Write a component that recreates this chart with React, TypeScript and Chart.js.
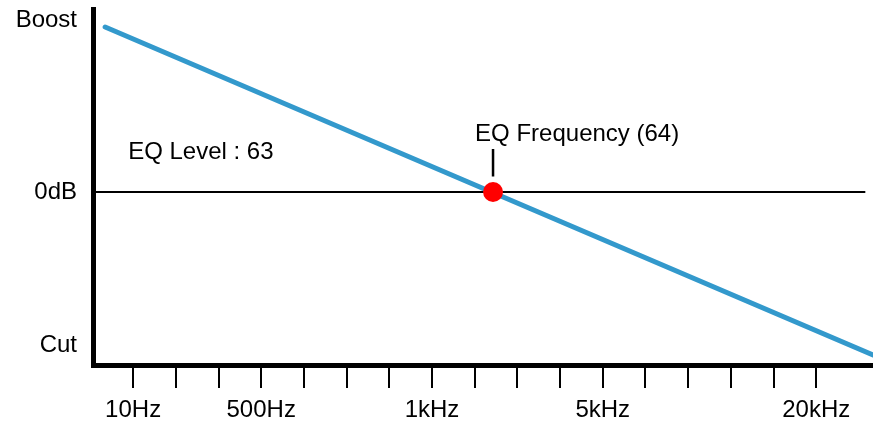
import React, { useEffect, useRef } from "react";
import { Chart, registerables } from "chart.js";

Chart.register(...registerables);

// X axis: 17 evenly spaced tick marks, only some labelled
const tickPositions = [0, 1, 2, 3, 4, 5, 6, 7, 8, 9, 10, 11, 12, 13, 14, 15, 16];
const tickLabels = ["10Hz", "", "", "500Hz", "", "", "", "1kHz", "", "", "", "5kHz", "", "", "", "", "20kHz"];

// Y axis labels
const yTickValues = [1, 0, -0.89];
const yTickLabels = ["Boost", "0dB", "Cut"];

// EQ curve (straight tilt line)
const curveX = [-0.656, 17.33];
const curveY = [0.959, -0.948];

// 0dB reference line
const zeroLineX = [-0.94, 17.15];
const zeroLineY = [0, 0];

// EQ frequency point
const eqPointX = [8.43];
const eqPointY = [0];

// marker line above EQ point
const markerX = [8.43, 8.43];
const markerY = [0.25, 0.09];

// text annotations: [text, x, y(baseline)]
const annotationTexts = ["EQ Level : 63", "EQ Frequency (64)"];
const annotationX = [-0.117, 8.01];
const annotationY = [0.19, 0.294];

const X_MIN = -0.94;
const X_MAX = 17.33;
const Y_MIN = -1.006;
const Y_MAX = 1.064;

const FONT = "'Liberation Sans', Arial, sans-serif";
const FONT_SIZE = 24;

const textPlugin = {
  id: "textAnnotations",
  afterDatasetsDraw(chart: any) {
    const { ctx, scales } = chart;
    ctx.save();
    ctx.fillStyle = "#000";
    ctx.font = `${FONT_SIZE}px ${FONT}`;
    ctx.textAlign = "left";
    ctx.textBaseline = "alphabetic";
    annotationTexts.forEach((t, i) => {
      ctx.fillText(t, scales.x.getPixelForValue(annotationX[i]), scales.y.getPixelForValue(annotationY[i]));
    });
    ctx.restore();
  },
};

const zeroPad = (scale: any) => {
  scale.paddingTop = 0;
  scale.paddingBottom = 0;
  scale.paddingLeft = 0;
  scale.paddingRight = 0;
};

export default function App() {
  const ref = useRef<HTMLCanvasElement | null>(null);
  useEffect(() => {
    if (!ref.current) return;
    const toPts = (xs: number[], ys: number[]) => xs.map((x, i) => ({ x, y: ys[i] }));
    const chart = new Chart(ref.current, {
      type: "scatter",
      data: {
        datasets: [
          {
            data: toPts(eqPointX, eqPointY),
            pointRadius: 10,
            pointBackgroundColor: "#ff0000",
            pointBorderWidth: 0,
            showLine: false,
            order: 0,
          } as any,
          {
            data: toPts(curveX, curveY),
            showLine: true,
            borderColor: "#3399cc",
            borderWidth: 5,
            borderCapStyle: "round",
            pointRadius: 0,
            order: 1,
          },
          {
            data: toPts(markerX, markerY),
            showLine: true,
            borderColor: "#000",
            borderWidth: 2.5,
            pointRadius: 0,
            order: 2,
          },
          {
            data: toPts(zeroLineX, zeroLineY),
            showLine: true,
            borderColor: "#000",
            borderWidth: 2,
            pointRadius: 0,
            order: 3,
          },
        ],
      },
      options: {
        animation: false,
        responsive: false,
        devicePixelRatio: 1,
        layout: { autoPadding: false, padding: { top: 9, left: 0, right: 0, bottom: 0 } },
        plugins: { legend: { display: false }, tooltip: { enabled: false } },
        scales: {
          x: {
            type: "linear",
            min: X_MIN,
            max: X_MAX,
            afterBuildTicks: (scale: any) => {
              scale.ticks = tickPositions.map((v) => ({ value: v }));
            },
            afterFit: (scale: any) => {
              scale.height = 58;
              zeroPad(scale);
            },
            grid: {
              display: true,
              drawOnChartArea: false,
              drawTicks: true,
              tickLength: 23,
              lineWidth: 2,
              color: "#000",
            },
            border: { display: true, width: 5, color: "#000" },
            ticks: {
              autoSkip: false,
              maxRotation: 0,
              padding: 8,
              color: "#000",
              font: { family: FONT, size: FONT_SIZE },
              callback: (value: any) => {
                const i = tickPositions.indexOf(Number(value));
                return i >= 0 ? tickLabels[i] : "";
              },
            },
          },
          y: {
            type: "linear",
            min: Y_MIN,
            max: Y_MAX,
            afterBuildTicks: (scale: any) => {
              scale.ticks = yTickValues.map((v) => ({ value: v }));
            },
            afterFit: (scale: any) => {
              scale.width = 93;
              zeroPad(scale);
            },
            grid: { display: true, drawOnChartArea: false, drawTicks: false, color: "rgba(0,0,0,0)" },
            border: { display: true, width: 5, color: "#000" },
            ticks: {
              autoSkip: false,
              padding: 16,
              color: "#000",
              font: { family: FONT, size: FONT_SIZE },
              callback: (value: any) => {
                const i = yTickValues.indexOf(Number(value));
                return i >= 0 ? yTickLabels[i] : "";
              },
            },
          },
        },
      },
      plugins: [textPlugin],
    });
    return () => chart.destroy();
  }, []);
  return (
    <div style={{ position: "fixed", left: 0, top: 0, width: 873, height: 423, background: "#fff" }}>
      <canvas ref={ref} width={873} height={423} style={{ width: 873, height: 423, display: "block" }} />
    </div>
  );
}
